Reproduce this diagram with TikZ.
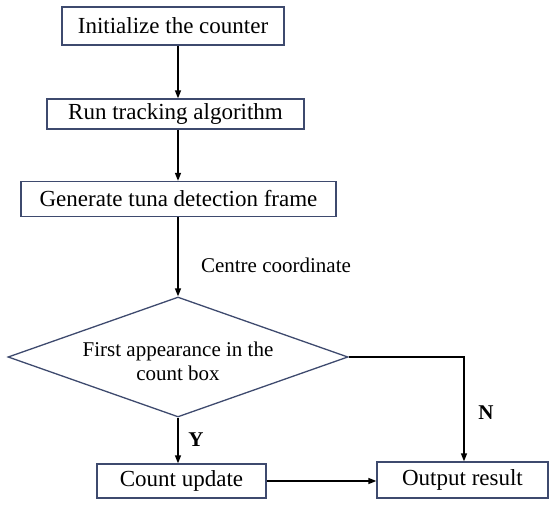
\documentclass[tikz,border=0pt]{standalone}
\usepackage{fontspec}
\setmainfont{Liberation Serif}
\usetikzlibrary{arrows.meta,shapes.geometric}
\definecolor{boxline}{RGB}{62,74,110}
\tikzset{
  procbox/.style={draw=boxline, line width=1.3pt, inner sep=0pt, font=\fontsize{23}{26}\selectfont, text=black},
  decbox/.style={draw=boxline, line width=1.3pt, shape=diamond, inner sep=0pt, minimum width=340pt, minimum height=120pt},
  dectext/.style={font=\fontsize{21}{24}\selectfont, align=center, inner sep=0pt},
  flow/.style={line width=1.4pt, -{Triangle[length=8pt,width=6pt]}},
  lbl/.style={font=\fontsize{21}{24}\selectfont, inner sep=0pt},
  yn/.style={font=\fontsize{21}{24}\selectfont\bfseries, inner sep=0pt}
}
\begin{document}
\begin{tikzpicture}[x=1pt,y=-1pt]
\useasboundingbox (0,0) rectangle (550,506);
\node[procbox, minimum width=222pt, minimum height=38pt] (b1) at (173,26) {Initialize the counter};
\node[procbox, minimum width=257pt, minimum height=30pt] (b2) at (175.5,114) {Run tracking algorithm};
\node[procbox, minimum width=315pt, minimum height=35pt] (b3) at (178.5,199) {Generate tuna detection frame};
\node[decbox] (d) at (178,357) {};
\node[dectext] (dt) at (178,361) {First appearance in the\\ count box};
\node[procbox, minimum width=169pt, minimum height=34pt] (cu) at (181.5,481) {Count update};
\node[procbox, minimum width=171pt, minimum height=36pt] (out) at (462.5,480) {Output result};
\coordinate (ax) at (178,0);
\coordinate (nc) at (464,357);
\node[lbl] (cc) at (276,265) {Centre coordinate};
\node[yn] (ylab) at (196,440) {Y};
\node[yn] (nlab) at (486,413) {N};
\draw[flow] (b1.south -| ax) -- (b2.north -| ax);
\draw[flow] (b2.south -| ax) -- (b3.north -| ax);
\draw[flow] (b3.south -| ax) -- (d.north);
\draw[flow] (d.south) -- (cu.north -| d.south);
\draw[flow] (d.east) -- (nc) -- (out.north -| nc);
\draw[flow] (cu.east) -- (cu.east -| out.west);
\end{tikzpicture}
\end{document}
